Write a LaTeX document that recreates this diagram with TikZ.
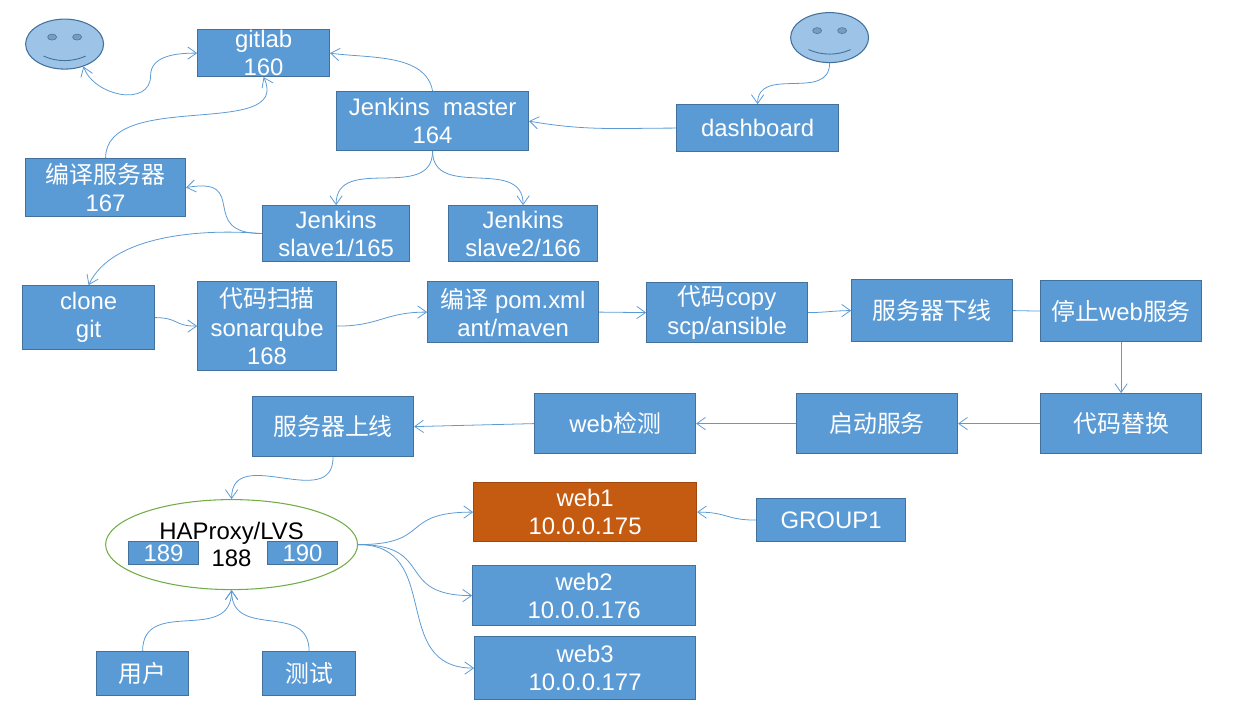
\documentclass[tikz,border=0pt]{standalone}
\usepackage{fontspec}
\setmainfont{Liberation Sans}
\newfontfamily\cjk{Noto Sans CJK SC}
\usetikzlibrary{arrows.meta}
\usetikzlibrary{shapes.geometric}
\definecolor{boxblue}{HTML}{5B9BD5}
\definecolor{boxedge}{HTML}{41719C}
\definecolor{faceblue}{HTML}{9DC3E6}
\definecolor{eyeblue}{HTML}{7C9CBF}
\definecolor{webred}{HTML}{C55A11}
\definecolor{lbgreen}{HTML}{70AD47}
\tikzset{
    boxsize/.style 2 args={minimum width=#1*0.02cm, minimum height=#2*0.02cm},
    box/.style={draw=boxedge, fill=boxblue, text=white, align=center, inner sep=0pt,
        line width=0.5pt, font=\fontsize{13.6}{16}\selectfont},
    face/.style={draw=boxedge, fill=faceblue, ellipse, inner sep=0pt, line width=0.6pt,
        minimum width=1.56cm, minimum height=1.0cm},
    barb/.tip={Straight Barb[length=5pt,width=7pt]},
    link/.style={draw=boxblue, line width=0.45pt, -barb}
}
\begin{document}
\begin{tikzpicture}[x=0.02cm, y=-0.02cm]
    \useasboundingbox (-0.6,-0.6) rectangle (1241.4,712.4);

    % faces
    \node [face] (smileA) at (64,43.5) {};
    \node [face] (smileB) at (829,37) {};
    \foreach \fx/\fy in {64/43.5, 829/37} {
        \fill [eyeblue, draw=boxedge, line width=0.3pt] (\fx-12.5,\fy-7) ellipse (4.5 and 3);
        \fill [eyeblue, draw=boxedge, line width=0.3pt] (\fx+12.5,\fy-7) ellipse (4.5 and 3);
        \draw [boxedge, line width=0.5pt] (\fx-21,\fy+12) .. controls (\fx-8,\fy+18) and (\fx+8,\fy+18) .. (\fx+21,\fy+12);
    }

    % top part
    \node [box, boxsize={132}{47}] (gitlab) at (263,52.5) {gitlab\\160};
    \node [box, boxsize={192}{59}] (master) at (432,120.5) {Jenkins\ \ master\\164};
    \node [box, boxsize={162}{47}] (dashboard) at (757,127.5) {dashboard};
    \node [box, boxsize={160}{58}] (compiler) at (105,187) {{\cjk 编译服务器}\\167};
    \node [box, boxsize={147}{56}] (slaveA) at (335.5,233) {Jenkins\\slave1/165};
    \node [box, boxsize={149}{56}] (slaveB) at (522.5,233) {Jenkins\\slave2/166};

    % pipeline
    \node [box, boxsize={132}{64}] (clone) at (88,317) {clone\\git};
    \node [box, boxsize={139}{89}] (sonar) at (266.5,325.5) {{\cjk 代码扫描}\\sonarqube\\168};
    \node [box, boxsize={171}{61}] (pom) at (512.5,311.5) {{\cjk 编译} pom.xml\\ant/maven};
    \node [box, boxsize={161}{60}] (copy) at (726.5,312) {{\cjk 代码}copy\\scp/ansible};
    \node [box, boxsize={161}{62}] (offline) at (931.5,310) {\cjk 服务器下线};
    \node [box, boxsize={161}{61}] (stopweb) at (1120.5,310.5) {{\cjk 停止}web{\cjk 服务}};
    \node [box, boxsize={161}{60}] (replace) at (1120.5,423) {\cjk 代码替换};
    \node [box, boxsize={161}{60}] (startsrv) at (876.5,423) {\cjk 启动服务};
    \node [box, boxsize={161}{60}] (webcheck) at (614.5,423) {web{\cjk 检测}};
    \node [box, boxsize={161}{60}] (online) at (332.5,426) {\cjk 服务器上线};

    % load balancer and web servers
    \node [draw=lbgreen, ellipse, inner sep=0pt, line width=0.6pt, align=center,
        minimum width=5.04cm, minimum height=1.8cm,
        font=\fontsize{13.6}{15.5}\selectfont] (lb) at (231,544) {HAProxy/LVS\\188};
    \node [box, boxsize={70}{23}] (nodeA) at (163,552.5) {189};
    \node [box, boxsize={70}{23}] (nodeB) at (302,552.5) {190};
    \node [box, boxsize={223}{59}, fill=webred, draw=webred!80!black] (webA) at (584.5,511.5) {web1\\10.0.0.175};
    \node [box, boxsize={223}{60}] (webB) at (583.5,595) {web2\\10.0.0.176};
    \node [box, boxsize={221}{63}] (webC) at (584.5,667.5) {web3\\10.0.0.177};
    \node [box, boxsize={149}{43}] (group) at (830.5,519.5) {GROUP1};
    \node [box, boxsize={92}{44}] (user) at (142,673) {\cjk 用户};
    \node [box, boxsize={93}{44}] (tester) at (308.5,673) {\cjk 测试};

    % connectors
    \coordinate (smileBend) at (150,75);
    \draw [link, barb-barb] (smileA.-50) to [out=-70,in=-90,looseness=1.2] (smileBend)
        to [out=90,in=180,looseness=1] (gitlab.west);
    \draw [link] (master.north) to [out=100,in=-8,looseness=0.9] (gitlab.east);
    \draw [link] (compiler.north) to [out=90,in=-65,looseness=1] (gitlab.south);
    \draw [link] (slaveA.west) to [out=180,in=10,looseness=1.9] (compiler.east);
    \draw [link] (slaveA.west) to [out=175,in=65,looseness=0.8] (clone.north);
    \draw [link] (master.south) to [out=-90,in=90,looseness=1.2] (slaveA.north);
    \draw [link] (master.south) to [out=-90,in=90,looseness=1.2] (slaveB.north);
    \draw [link] (dashboard.west) to [out=180,in=-10,looseness=1] (master.east);
    \draw [link] (smileB.south) to [out=-90,in=90,looseness=1.2] (dashboard.north);
    \draw [link] (clone.east) to [out=0,in=180,looseness=1.4] (sonar.west);
    \draw [link] (sonar.east) to [out=0,in=180,looseness=1.2] (pom.west);
    \draw [link] (pom.east) -- (copy.west);
    \draw [link] (copy.east) to [out=0,in=180] (offline.west);
    \draw [draw=boxblue, line width=0.45pt] (offline.east) -- (stopweb.west);
    \draw [link] (stopweb.south) -- (replace.north);
    \draw [link] (replace.west) -- (startsrv.east);
    \draw [link] (startsrv.west) -- (webcheck.east);
    \draw [link] (webcheck.west) -- (online.east);
    \draw [link] (online.south) to [out=-90,in=90,looseness=1.3] (lb.north);
    \draw [link] (lb.east) to [out=0,in=180,looseness=1.6] (webA.west);
    \draw [link] (lb.east) to [out=0,in=180,looseness=1.6] (webB.west);
    \draw [link] (lb.east) to [out=0,in=180,looseness=1.3] (webC.west);
    \draw [link] (group.west) to [out=180,in=0,looseness=1.3] (webA.east);
    \draw [link] (user.north) to [out=90,in=-90,looseness=1.3] (lb.south);
    \draw [link] (tester.north) to [out=90,in=-90,looseness=1.3] (lb.south);
\end{tikzpicture}
\end{document}
